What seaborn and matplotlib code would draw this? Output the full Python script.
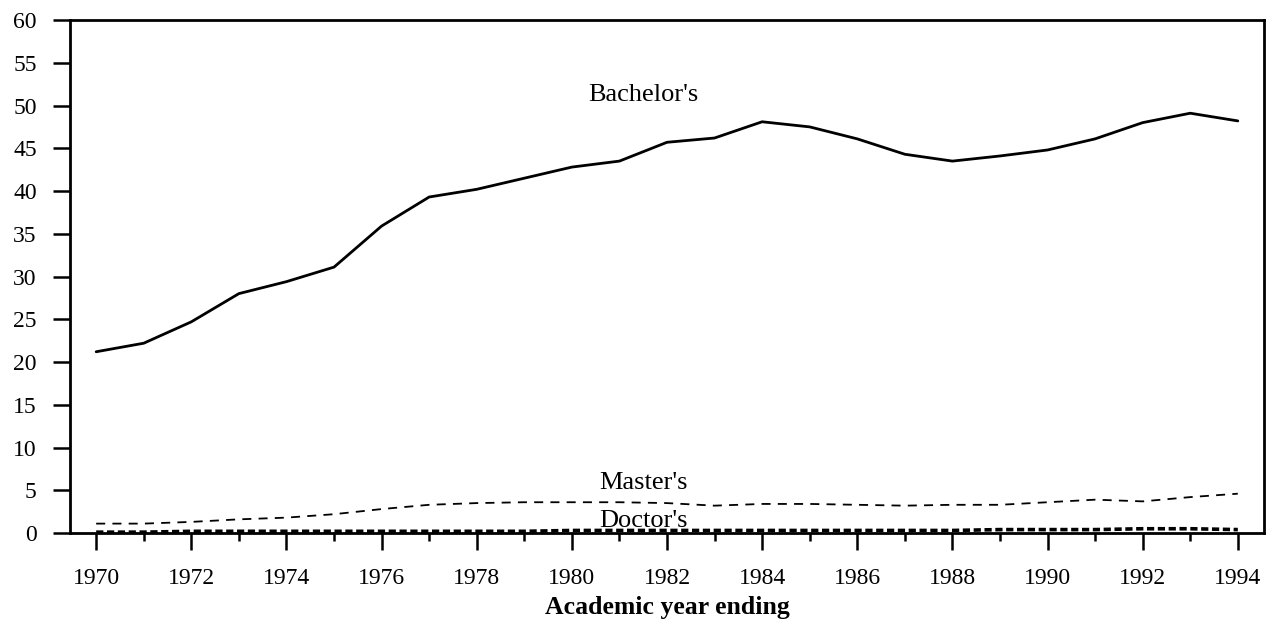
import matplotlib
matplotlib.use("Agg")
import matplotlib.pyplot as plt
import seaborn as sns
import pandas as pd
from matplotlib.ticker import MultipleLocator

years = list(range(1970, 1995))
bachelors = [21.2, 22.2, 24.7, 28.0, 29.4, 31.1, 35.9, 39.3, 40.2, 41.5, 42.8, 43.5,
             45.7, 46.2, 48.1, 47.5, 46.1, 44.3, 43.5, 44.1, 44.8, 46.1, 48.0, 49.1, 48.2]
masters = [1.1, 1.1, 1.3, 1.6, 1.8, 2.2, 2.8, 3.3, 3.5, 3.6, 3.6, 3.6, 3.5, 3.2, 3.4,
           3.4, 3.3, 3.2, 3.3, 3.3, 3.6, 3.9, 3.7, 4.2, 4.6]
doctors = [0.1, 0.1, 0.2, 0.2, 0.2, 0.2, 0.2, 0.2, 0.2, 0.2, 0.3, 0.3, 0.3, 0.3, 0.3,
           0.3, 0.3, 0.3, 0.3, 0.4, 0.4, 0.4, 0.5, 0.5, 0.4]
series_names = ["Bachelor's", "Master's", "Doctor's"]

sns.set_style("ticks")
plt.rcParams["font.family"] = ["Liberation Serif", "DejaVu Serif"]
plt.rcParams["text.color"] = "black"
plt.rcParams["axes.labelcolor"] = "black"
plt.rcParams["xtick.color"] = "black"
plt.rcParams["ytick.color"] = "black"

df = pd.DataFrame({"year": years * 3,
                   "value": bachelors + masters + doctors,
                   "degree": [series_names[0]] * len(years) + [series_names[1]] * len(years)
                             + [series_names[2]] * len(years)})

fig = plt.figure(figsize=(12.66, 6.2), dpi=100)
ax = fig.add_axes([0.0553, 0.1403, 0.9431, 0.8274])

sns.lineplot(data=df, x="year", y="value", style="degree", ax=ax, color="black",
             dashes={series_names[0]: "", series_names[1]: (5, 4), series_names[2]: (2, 1)},
             linewidth=1.6, legend=False)
for ln, lw in zip(ax.lines, [2.0, 1.3, 2.6]):
    ln.set_linewidth(lw)

ax.set_xlim(1969.45, 1994.55)
ax.set_ylim(0, 60)
ax.xaxis.set_major_locator(MultipleLocator(2))
ax.xaxis.set_minor_locator(MultipleLocator(1))
ax.yaxis.set_major_locator(MultipleLocator(5))

ax.tick_params(axis="x", which="major", length=12, width=1.8, direction="out",
               labelsize=17, pad=13, colors="black")
ax.tick_params(axis="x", which="minor", length=6, width=1.8, direction="out", colors="black")
ax.tick_params(axis="y", which="major", length=12, width=1.8, direction="out",
               labelsize=17, pad=12, colors="black")
for s in ax.spines.values():
    s.set_linewidth(2.0)
    s.set_color("black")

ax.set_xlabel("Academic year ending", fontsize=18.5, fontweight="bold", labelpad=5,
              color="black")
ax.set_ylabel("")

ax.text(1981.5, 51.2, series_names[0], fontsize=19, ha="center", va="center", color="black")
ax.text(1981.5, 5.8, series_names[1], fontsize=19, ha="center", va="center", color="black")
ax.text(1981.5, 1.4, series_names[2], fontsize=19, ha="center", va="center", color="black")

fig.savefig("out.png", dpi=100, facecolor="white")
